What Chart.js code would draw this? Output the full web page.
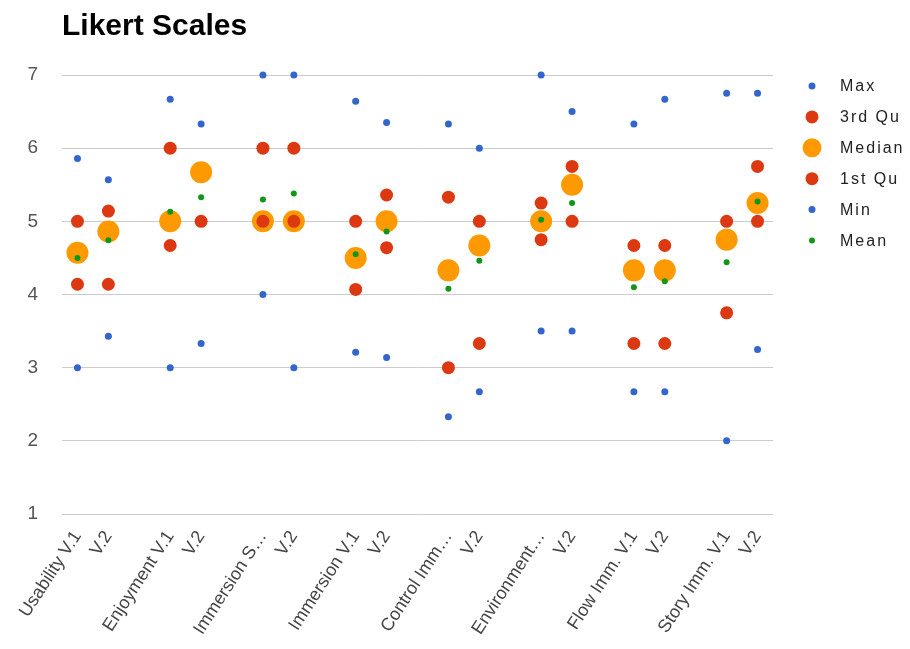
<!DOCTYPE html>
<html>
<head>
<meta charset="utf-8">
<script src="https://cdn.jsdelivr.net/npm/chart.js@4/dist/chart.umd.min.js"></script>
<style>
  html, body { margin: 0; padding: 0; background: #ffffff; }
  #wrap { width: 910px; height: 649px; position: relative; }
</style>
</head>
<body>
<div id="wrap"><canvas id="c" width="910" height="649"></canvas></div>
<script>
// Scale names, paired as version 1 / version 2
const categories = [
  'Usability V.1', 'V.2',
  'Enjoyment V.1', 'V.2',
  'Immersion S…', 'V.2',
  'Immersion V.1', 'V.2',
  'Control Imm…', 'V.2',
  'Environment…', 'V.2',
  'Flow Imm. V.1', 'V.2',
  'Story Imm. V.1', 'V.2'
];

// Summary statistics per scale
const maxVals    = [5.86, 5.57, 6.67, 6.33, 7.00, 7.00, 6.64, 6.35, 6.33, 6.00, 7.00, 6.50, 6.33, 6.67, 6.75, 6.75];
const q3Vals     = [5.00, 5.14, 6.00, 5.67, 6.00, 6.00, 5.00, 5.36, 5.33, 5.00, 5.25, 5.75, 4.67, 4.67, 5.00, 5.75];
const medianVals = [4.57, 4.86, 5.00, 5.67, 5.00, 5.00, 4.50, 5.00, 4.33, 4.67, 5.00, 5.50, 4.33, 4.33, 4.75, 5.25];
const q1Vals     = [4.14, 4.14, 4.67, 5.00, 5.00, 5.00, 4.07, 4.64, 3.00, 3.33, 4.75, 5.00, 3.33, 3.33, 3.75, 5.00];
const minVals    = [3.00, 3.43, 3.00, 3.33, 4.00, 3.00, 3.21, 3.14, 2.33, 2.67, 3.50, 3.50, 2.67, 2.67, 2.00, 3.25];
const meanVals   = [4.50, 4.74, 5.13, 5.33, 5.30, 5.38, 4.55, 4.86, 4.08, 4.46, 5.02, 5.25, 4.10, 4.18, 4.44, 5.27];

const yTicks = [1, 2, 3, 4, 5, 6, 7];

// Insert an empty slot between each pair of scales
function spaced(arr, blank) {
  const out = [];
  arr.forEach((v, i) => {
    out.push(v);
    if (i % 2 === 1 && i < arr.length - 1) out.push(blank);
  });
  return out;
}
const axisLabels = spaced(categories, '');

const series = [
  { label: 'Max',    data: maxVals,    color: '#3366cc', r: 3.5, lr: 3.5, order: 5 },
  { label: '3rd Qu', data: q3Vals,     color: '#dc3912', r: 6.5, lr: 6.5, order: 4 },
  { label: 'Median', data: medianVals, color: '#ff9900', r: 11,  lr: 9.5, order: 3 },
  { label: '1st Qu', data: q1Vals,     color: '#dc3912', r: 6.5, lr: 6.5, order: 2 },
  { label: 'Min',    data: minVals,    color: '#3366cc', r: 3.5, lr: 3.5, order: 1 },
  { label: 'Mean',   data: meanVals,   color: '#109618', r: 3,   lr: 3,   order: 0 }
];

const datasets = series.map(s => ({
  label: s.label,
  data: spaced(s.data, null),
  showLine: false,
  pointRadius: s.r,
  pointHoverRadius: s.r,
  pointBorderWidth: 0,
  pointBackgroundColor: s.color,
  backgroundColor: s.color,
  borderColor: s.color,
  order: s.order,
  clip: false
}));

// Title and legend drawn beside the plot area
const sidePlugin = {
  id: 'side',
  afterDraw(chart) {
    const ctx = chart.ctx;
    ctx.save();
    ctx.fillStyle = '#000000';
    ctx.font = 'bold 30px "Liberation Sans", Arial, sans-serif';
    ctx.textAlign = 'left';
    ctx.textBaseline = 'alphabetic';
    ctx.fillText('Likert Scales', 62, 35);

    ctx.font = '16px "Liberation Sans", Arial, sans-serif';
    ctx.textBaseline = 'middle';
    if ('letterSpacing' in ctx) ctx.letterSpacing = '2px';
    series.forEach((s, i) => {
      const y = 86 + i * 30.9;
      ctx.beginPath();
      ctx.fillStyle = s.color;
      ctx.arc(812, y, s.lr, 0, Math.PI * 2);
      ctx.fill();
      ctx.fillStyle = '#222222';
      ctx.fillText(s.label, 840, y + 1);
    });
    ctx.restore();
  }
};

new Chart(document.getElementById('c'), {
  type: 'line',
  data: { labels: axisLabels, datasets },
  plugins: [sidePlugin],
  options: {
    responsive: false,
    animation: false,
    devicePixelRatio: 1,
    layout: { padding: { top: 75, right: 137, left: 0, bottom: 0 } },
    plugins: {
      legend: { display: false },
      title: { display: false },
      tooltip: { enabled: false }
    },
    scales: {
      x: {
        type: 'category',
        offset: true,
        grid: { display: false, drawTicks: false },
        border: { display: false },
        ticks: {
          autoSkip: false,
          minRotation: 57,
          maxRotation: 57,
          padding: 13,
          color: '#444444',
          font: { family: '"Liberation Sans", Arial, sans-serif', size: 18 }
        },
        afterFit(scale) { scale.height = 135; }
      },
      y: {
        min: 1,
        max: 7,
        afterBuildTicks(scale) { scale.ticks = yTicks.map(v => ({ value: v })); },
        grid: { color: '#cccccc', lineWidth: 1, drawTicks: false },
        border: { display: false },
        ticks: {
          padding: 24,
          color: '#555555',
          font: { family: '"Liberation Sans", Arial, sans-serif', size: 19 }
        },
        afterFit(scale) { scale.width = 62; }
      }
    }
  }
});
</script>
</body>
</html>
